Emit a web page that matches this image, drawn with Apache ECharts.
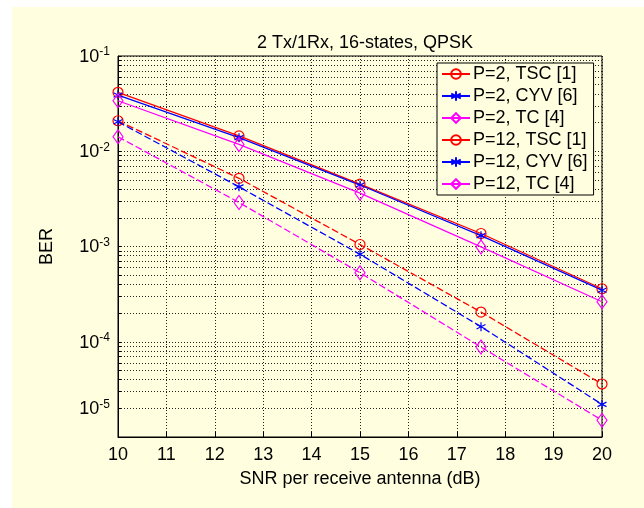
<!DOCTYPE html>
<html>
<head>
<meta charset="utf-8">
<script src="https://cdn.jsdelivr.net/npm/echarts@6/dist/echarts.min.js"></script>
<style>
html,body{margin:0;padding:0;background:#ffffff;}
#bg{position:absolute;left:12px;top:7px;width:632px;height:501px;background:#ffffe0;}
#chart{position:absolute;left:0;top:0;width:644px;height:508px;}
</style>
</head>
<body>
<div id="bg"></div>
<div id="chart"></div>
<script>
// ---- data ----
const snr = [10, 12.5, 15, 17.5, 20];
const p2TSC  = [0.0416, 0.0145, 0.00452, 0.00137, 0.00036];
const p2CYV  = [0.0389, 0.0139, 0.00442, 0.00130, 0.000348];
const p2TC   = [0.0339, 0.0118, 0.00363, 0.00099, 0.000263];
const p12TSC = [0.0209, 0.0052, 0.00105, 0.000205, 0.000036];
const p12CYV = [0.0204, 0.00423, 0.00083, 0.000144, 0.000022];
const p12TC  = [0.0142, 0.0029, 0.00053, 0.000088, 0.000015];
const seriesNames = ['P=2, TSC [1]', 'P=2, CYV [6]', 'P=2, TC [4]', 'P=12, TSC [1]', 'P=12, CYV [6]', 'P=12, TC [4]'];
const xTicks = [10, 11, 12, 13, 14, 15, 16, 17, 18, 19, 20];
// y tick labels (value where label is drawn, exponent text)
const yLabelPos = [1e-1, 1e-2, 1e-3, 1e-4, 2e-5];
const yLabelExp = ['-1', '-2', '-3', '-4', '-5'];
const yDecades = [-5, -4, -3, -2];
const yMantissas = [1, 2, 3, 4, 5, 6, 7, 8, 9];
const titleText = '2 Tx/1Rx, 16-states, QPSK';
const xName = 'SNR per receive antenna (dB)';
const yName = 'BER';

const cream = '#ffffe0';
const RED = '#ff0000', BLUE = '#0000ff', MAG = '#ff00ff';
const FONT = 'Arial, "Liberation Sans", sans-serif';

const gridVals = [];
yDecades.forEach(d => yMantissas.forEach(m => gridVals.push(Math.log10(m) + d)));
gridVals.push(-1);
const labelVals = yLabelPos.map(v => Math.log10(v));

const starPath = 'path://M5 0L5 10M0.7 2.5L9.3 7.5M0.7 7.5L9.3 2.5';

function mk(name, vals, color, symbol, size, dashed) {
  return {
    name: name,
    type: 'line',
    yAxisIndex: 0,
    data: snr.map((x, i) => [x, vals[i]]),
    symbol: symbol,
    symbolSize: size,
    showSymbol: true,
    lineStyle: { color: color, width: 1.3, type: dashed ? [7, 3] : 'solid' },
    itemStyle: { color: 'rgba(0,0,0,0)', borderColor: color, borderWidth: 1.2 },
    emphasis: { disabled: true },
    animation: false
  };
}

const chart = echarts.init(document.getElementById('chart'));
chart.setOption({
  backgroundColor: 'transparent',
  animation: false,
  title: {
    text: titleText,
    left: 360, top: 29, textAlign: 'center',
    textStyle: { fontFamily: FONT, fontSize: 18, fontWeight: 'normal', color: '#000' }
  },
  grid: {
    left: 118, right: 42, top: 56, bottom: 71,
    show: true, backgroundColor: cream, borderColor: '#000', borderWidth: 1
  },
  legend: {
    orient: 'vertical',
    left: 437, top: 63,
    padding: [2, 6, 2, 4],
    itemGap: 4,
    itemWidth: 28, itemHeight: 12,
    backgroundColor: cream, borderColor: '#000', borderWidth: 1,
    lineStyle: { type: 'solid' },
    textStyle: { fontFamily: FONT, fontSize: 18, color: '#000', padding: [0, 0, 0, -2] },
    data: seriesNames
  },
  xAxis: {
    type: 'value', min: 10, max: 20, interval: 1,
    axisLine: { show: true, lineStyle: { color: '#000' } },
    axisTick: { show: true, inside: true, length: 5, lineStyle: { color: '#000' } },
    axisLabel: { fontFamily: FONT, fontSize: 18, color: '#000', margin: 9 },
    splitLine: { show: true, lineStyle: { color: '#222', type: [1, 2], width: 1 } },
    name: xName, nameLocation: 'middle', nameGap: 33,
    nameTextStyle: { fontFamily: FONT, fontSize: 18, color: '#000' }
  },
  yAxis: [
    {
      type: 'log', logBase: 10, min: 1e-5, max: 1e-1, position: 'left',
      axisLine: { show: false }, axisTick: { show: false },
      axisLabel: { show: false }, splitLine: { show: false }
    },
    {
      type: 'value', min: -5, max: -1, position: 'left',
      axisLine: { show: true, lineStyle: { color: '#000' } },
      axisTick: { show: true, inside: true, length: 3, customValues: gridVals, lineStyle: { color: '#000' } },
      splitLine: { show: true, lineStyle: { color: '#222', type: [1, 2], width: 1 } },
      axisLabel: {
        customValues: labelVals,
        margin: 8,
        formatter: function (v) {
          let best = 0, bd = 1e9;
          labelVals.forEach((lv, i) => { const d = Math.abs(lv - v); if (d < bd) { bd = d; best = i; } });
          return '{b|10}{s|' + yLabelExp[best] + '}';
        },
        rich: {
          b: { fontFamily: FONT, fontSize: 18, color: '#000', verticalAlign: 'bottom' },
          s: { fontFamily: FONT, fontSize: 12, color: '#000', verticalAlign: 'bottom', padding: [0, 0, 8, 0] }
        }
      },
      name: yName, nameLocation: 'middle', nameGap: 62, nameRotate: 90,
      nameTextStyle: { fontFamily: FONT, fontSize: 18, color: '#000' }
    }
  ],
  series: [
    mk(seriesNames[0], p2TSC, RED, 'circle', 10, false),
    mk(seriesNames[1], p2CYV, BLUE, starPath, 9, false),
    mk(seriesNames[2], p2TC, MAG, 'diamond', [10, 14], false),
    mk(seriesNames[3], p12TSC, RED, 'circle', 10, true),
    mk(seriesNames[4], p12CYV, BLUE, starPath, 9, true),
    mk(seriesNames[5], p12TC, MAG, 'diamond', [10, 14], true)
  ]
});
</script>
</body>
</html>
